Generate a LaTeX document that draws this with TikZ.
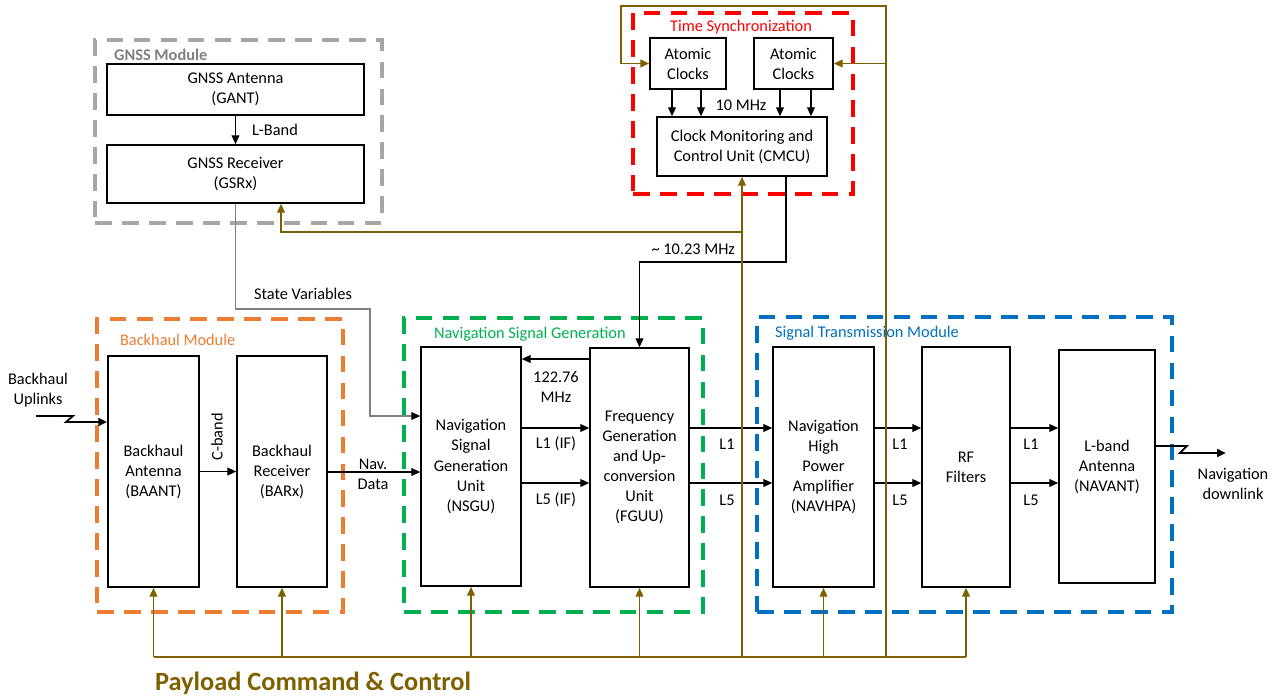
\documentclass[tikz,border=0pt]{standalone}
\usepackage{fontspec}
\setmainfont{Carlito}
\usepackage{tikz}
\usetikzlibrary{arrows.meta,positioning,calc}
\definecolor{gnssgray}{HTML}{A6A6A6}
\definecolor{titlegray}{HTML}{7F7F7F}
\definecolor{bhorange}{HTML}{ED7D31}
\definecolor{nsggreen}{HTML}{00B050}
\definecolor{stmblue}{HTML}{0070C0}
\definecolor{syncred}{HTML}{FF0000}
\definecolor{ctlbrown}{HTML}{7F6000}
\definecolor{svgray}{HTML}{808080}

\begin{document}
\begin{tikzpicture}[
    x=0.02cm, y=-0.02cm,
    every node/.style={font=\fontsize{9.3}{11.4}\selectfont, inner sep=1pt, align=center},
    unit/.style={draw=black, line width=1pt, inner sep=2pt},
    module/.style={line width=2.3pt, dash pattern=on 0.33cm off 0.21cm},
    modtitle/.style={anchor=west},
    sig/.style={draw=black, line width=0.6pt, -{Triangle[length=5pt,width=4.5pt]}},
    ctl/.style={draw=ctlbrown, line width=0.7pt},
    ctlarrow/.style={ctl, -{Triangle[length=5pt,width=4.5pt]}}
]
\useasboundingbox (0,0) rectangle (1280,696);

% modules
\node[module, draw=gnssgray, minimum width=5.74cm, minimum height=3.66cm] (gnssmod) at (238.5,131.5) {};
\node[module, draw=syncred, minimum width=4.4cm, minimum height=3.62cm] (syncmod) at (743,103.5) {};
\node[module, draw=bhorange, minimum width=4.92cm, minimum height=5.86cm] (bhmod) at (220,465.5) {};
\node[module, draw=nsggreen, minimum width=5.98cm, minimum height=5.88cm] (nsgmod) at (553.5,465) {};
\node[module, draw=stmblue, minimum width=8.3cm, minimum height=5.9cm] (stmod) at (964.5,464.5) {};

\node[modtitle, text=titlegray, font=\fontsize{9.3}{11.4}\selectfont\bfseries] (gnsstitle) at (112,55) {GNSS Module};
\node[text=syncred] (synctitle) at (741,27) {Time Synchronization};
\node[modtitle, text=bhorange] (bhtitle) at (118,340) {Backhaul Module};
\node[modtitle, text=nsggreen] (nsgtitle) at (432,334) {Navigation Signal Generation};
\node[modtitle, text=stmblue] (sttitle) at (773,333) {Signal Transmission Module};

% units
\node[unit, minimum width=5.14cm, minimum height=1.02cm] (gant) at (235.5,89.5) {GNSS Antenna\\(GANT)};
\node[unit, minimum width=5.14cm, minimum height=1.16cm] (gsrx) at (235.5,174) {GNSS Receiver\\(GSRx)};
\node[unit, minimum width=1.52cm, minimum height=1.02cm] (clkA) at (688,63.5) {Atomic\\Clocks};
\node[unit, minimum width=1.58cm, minimum height=1.02cm] (clkB) at (793.5,63.5) {Atomic\\Clocks};
\node[unit, minimum width=3.4cm, minimum height=1.18cm] (cmcu) at (742,146.5) {Clock Monitoring and\\Control Unit (CMCU)};

\node[unit, minimum width=1.82cm, minimum height=4.62cm] (baant) at (153.5,471.5) {Backhaul\\Antenna\\(BAANT)};
\node[unit, minimum width=1.8cm, minimum height=4.62cm] (barx) at (282,471.5) {Backhaul\\Receiver\\(BARx)};
\node[unit, minimum width=2cm, minimum height=4.78cm] (nsgu) at (471,466.5) {Navigation\\Signal\\Generation\\Unit\\(NSGU)};
\node[unit, minimum width=1.98cm, minimum height=4.78cm] (fguu) at (639.5,467.5) {Frequency\\Generation\\and Up-\\conversion\\Unit\\(FGUU)};
\node[unit, minimum width=2.02cm, minimum height=4.8cm] (hpa) at (823.5,467) {Navigation\\High\\Power\\Amplifier\\(NAVHPA)};
\node[unit, minimum width=1.76cm, minimum height=4.8cm] (rff) at (966,467) {RF\\Filters};
\node[unit, minimum width=1.92cm, minimum height=4.66cm] (navant) at (1107,466.5) {L-band\\Antenna\\(NAVANT)};

% rows
\coordinate (row122) at (0,359);
\coordinate (rowSV) at (0,416);
\coordinate (rowL1) at (0,428);
\coordinate (rowND) at (0,472);
\coordinate (rowL5) at (0,483);
\coordinate (row1023) at (0,262);

% GNSS and clocks
\draw[sig] (gant) -- (gsrx);
\node[anchor=west] (lband) at (250,130) {L-Band};
\foreach \dx in {-0.32,0.26}
  \draw[sig] ([xshift=\dx cm]clkA.south) coordinate (ca) -- (ca |- cmcu.north);
\foreach \dx in {-0.27,0.35}
  \draw[sig] ([xshift=\dx cm]clkB.south) coordinate (cb) -- (cb |- cmcu.north);
\node (tenmhz) at (741,105) {10 MHz};

\draw[sig] ([xshift=0.88cm]cmcu.south) coordinate (cm1) -- (cm1 |- row1023) -- (fguu.north |- row1023) -- (fguu.north);
\node[anchor=east] (clk1023) at (737,249) {\textasciitilde\ 10.23 MHz};

% state variables
\coordinate (svbend) at (370,309);
\draw[draw=svgray, line width=0.6pt, -{Triangle[length=5pt,width=4.5pt,color=black]}] (gsrx.south) -- (gsrx.south |- svbend) -- (svbend) -- (svbend |- rowSV) -- (nsgu.west |- rowSV);
\node (svlabel) at (303,294) {State Variables};

% backhaul
\coordinate (uplk) at (36,416);
\draw[sig, line width=1pt] (uplk) -- ++(37,0) -- ++(-7,6) coordinate (uz) -- (uz -| baant.west);
\node (uplabel) at (38,390) {Backhaul\\Uplinks};
\draw[sig] (baant) -- (barx);
\node[rotate=90] (cband) at (217,437) {C-band};
\draw[sig] (barx.east |- rowND) -- (nsgu.west |- rowND);
\node (navdata) at (373,474) {Nav.\\Data};

% signal generation
\draw[sig] (fguu.west |- row122) -- (nsgu.east |- row122);
\node (mhz122) at (556,387) {122.76\\MHz};
\draw[sig] (nsgu.east |- rowL1) -- (fguu.west |- rowL1);
\node (lifa) at (556,444) {L1 (IF)};
\draw[sig] (nsgu.east |- rowL5) -- (fguu.west |- rowL5);
\node (lifb) at (556,500) {L5 (IF)};

% transmission chain
\foreach \a/\b/\lx in {fguu/hpa/727, hpa/rff/900, rff/navant/1031} {
  \draw[sig] (\a.east |- rowL1) -- (\b.west |- rowL1);
  \draw[sig] (\a.east |- rowL5) -- (\b.west |- rowL5);
  \node (lone\a) at (\lx,444) {L1};
  \node (lfive\a) at (\lx,500) {L5};
}
\draw[sig, line width=1pt] ([yshift=0.41cm]navant.east) -- ++(31,0) -- ++(-7,7) -- ++(46,0) coordinate (dnlk);
\node (dnlabel) at (1233,484) {Navigation\\downlink};

% payload command and control
\coordinate (bus) at (0,657);
\coordinate (gtap) at (0,232);
\coordinate (loopR) at (886,6);
\coordinate (loopL) at (621,6);
\draw[ctl] (baant.south |- bus) -- (rff.south |- bus);
\foreach \u in {baant,barx,nsgu,fguu,hpa,rff,cmcu}
  \draw[ctlarrow] (\u.south |- bus) -- (\u.south);
\draw[ctlarrow] (cmcu.south |- gtap) -| ([xshift=0.91cm]gsrx.south);
\draw[ctlarrow] (loopR |- bus) -- (loopR) -- (loopL) |- (clkA.west);
\draw[ctlarrow] (loopR |- clkB.east) -- (clkB.east);
\node[anchor=west, text=ctlbrown, font=\fontsize{15}{18}\selectfont\bfseries] (pcc) at (153,683) {Payload Command \& Control};

\end{tikzpicture}
\end{document}
